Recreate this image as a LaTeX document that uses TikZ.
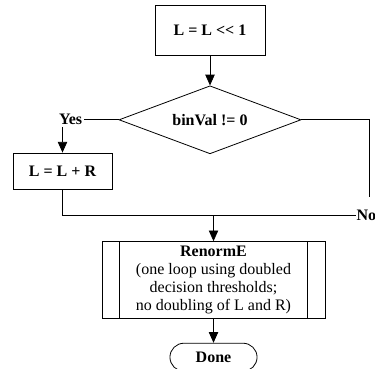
\documentclass[tikz,border=0pt]{standalone}
\usepackage{fontspec}
\setmainfont{Liberation Serif}
\usepackage{tikz}
\usetikzlibrary{arrows.meta,positioning,shapes.geometric,shapes.misc,calc}

\begin{document}
\begin{tikzpicture}[x=0.75pt, y=-0.75pt, line width=0.6pt,
    every node/.style={font=\fontsize{12}{13.5}\selectfont},
    box/.style={draw, rectangle, inner sep=2pt, font=\fontsize{12}{13.5}\selectfont\bfseries},
    arr/.style={-{Triangle[length=8pt,width=7pt]}}]
    \useasboundingbox (0,0) rectangle (375,368);
    % main column
    \node (top) [box, minimum width=82.5pt, minimum height=37.5pt] at (210,30) {L = L {<}{<} 1};
    \node (dia) [draw, diamond, aspect=2.68, inner sep=0pt, minimum width=136.5pt, minimum height=51pt,
        font=\fontsize{12}{13.5}\selectfont\bfseries, below=22.5pt of top] {binVal != 0};
    \node (yes) [inner sep=1pt, font=\fontsize{12}{13.5}\selectfont\bfseries, left=26pt of dia.west] {Yes};
    \node (addl) [box, minimum width=74.25pt, minimum height=27pt] at (62.5,171) {L = L + R};
    \node (no) [anchor=west, inner sep=0.5pt, font=\fontsize{12}{13.5}\selectfont\bfseries] at (355.5,215) {No};
    \coordinate (nend) at (369,197);
    \node (renorm) [draw, rectangle, align=center, minimum width=167.25pt, minimum height=57pt] at (213.5,280)
        {\textbf{RenormE}\\(one loop using doubled\\decision thresholds;\\no doubling of L and R)};
    \node (done) [draw, rounded rectangle, minimum width=72pt, minimum height=21pt,
        font=\fontsize{12}{13.5}\selectfont\bfseries, below=18pt of renorm] {Done};
    % inner sides of the process box
    \draw ($(renorm.north west)+(18,0)$) -- ($(renorm.south west)+(18,0)$);
    \draw ($(renorm.north east)+(-18,0)$) -- ($(renorm.south east)+(-18,0)$);
    % connectors
    \draw[arr] (top) -- (dia);
    \draw (dia.west) -- (yes.east);
    \draw[arr] (yes.south -| addl.north) -- (addl.north);
    \draw (dia.east) -| (nend);
    \draw (addl.south) |- (no.west);
    \draw[arr] (no.west -| renorm.north) -- (renorm.north);
    \draw[arr] (renorm) -- (done);
\end{tikzpicture}
\end{document}
